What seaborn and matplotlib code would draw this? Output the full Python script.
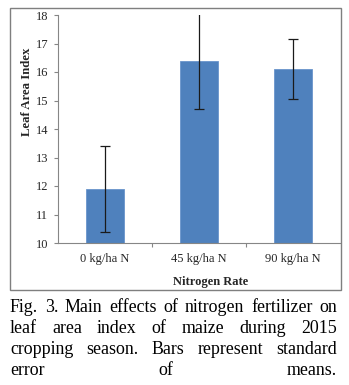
import matplotlib
matplotlib.use("Agg")
import matplotlib.pyplot as plt
import seaborn as sns
import pandas as pd
from matplotlib.patches import Rectangle

categories = ["0 kg/ha N", "45 kg/ha N", "90 kg/ha N"]
lai_means = [11.9, 16.4, 16.1]
lai_se = [1.52, 1.69, 1.05]
y_ticks = [10, 11, 12, 13, 14, 15, 16, 17, 18]
caption_lines = [
    "Fig. 3. Main effects of nitrogen fertilizer on",
    "leaf area index of maize during 2015",
    "cropping season. Bars represent standard",
    "error of means.",
]

sns.set_theme(style="white")
plt.rcParams['font.family'] = ['Liberation Serif', 'DejaVu Serif']

W, H = 349, 385
fig = plt.figure(figsize=(W / 100, H / 100), dpi=100)
ax = fig.add_axes([58 / W, (H - 243) / H, (340 - 58) / W, (243 - 15) / H])

df = pd.DataFrame({"cat": categories, "lai": lai_means})
sns.barplot(data=df, x="cat", y="lai", ax=ax, color="#4F81BD", width=0.4,
            edgecolor="#6A95CC", linewidth=0.6, errorbar=None, saturation=1)
ax.errorbar(range(len(categories)), lai_means, yerr=lai_se, fmt="none",
            ecolor="#1a1a1a", elinewidth=0.9, capsize=3.5, capthick=0.9)

tfs = 9
ax.set_ylim(10, 18)
ax.set_xlim(-0.5, 2.5)
ax.set_yticks(y_ticks)
ax.set_yticklabels([str(t) for t in y_ticks], fontsize=tfs)
ax.set_xticks(range(len(categories)))
ax.set_xticklabels(categories, fontsize=tfs)
ax.set_xticks([0.5, 1.5], minor=True)
ax.tick_params(axis="x", which="major", length=0, pad=7.5)
ax.tick_params(axis="x", which="minor", length=3, color="#868686", width=0.8, direction="out", bottom=True)
ax.tick_params(axis="y", length=3, color="#868686", width=0.8, direction="out", left=True, pad=4)
for s in ["top", "right"]:
    ax.spines[s].set_visible(False)
for s in ["left", "bottom"]:
    ax.spines[s].set_color("#868686")
    ax.spines[s].set_linewidth(0.8)

ax.set_xlabel("Nitrogen Rate", fontsize=9, fontweight="bold")
ax.set_ylabel("Leaf Area Index", fontsize=9.2, fontweight="bold")
ax.xaxis.set_label_coords((211 - 58) / (340 - 58), -(276 - 243) / (243 - 15))
ax.yaxis.set_label_coords(-(58 - 33) / (340 - 58), (243 - 92) / (243 - 15))

# outer box
fig.patches.append(Rectangle((10 / W, (H - 290) / H), (341 - 10) / W, (290 - 8) / H,
                             transform=fig.transFigure, fill=False,
                             edgecolor="#7f7f7f", linewidth=1.0))

# justified caption
renderer = fig.canvas.get_renderer()
x0, x1 = 10, 337
fs = 12.9
line_y = [312, 333, 354, 375]
for line, yy in zip(caption_lines, line_y):
    words = line.split()
    texts = []
    widths = []
    for w in words:
        t = fig.text(0, 0, w, fontsize=fs, va="baseline", ha="left", color="black")
        bb = t.get_window_extent(renderer=renderer)
        texts.append(t)
        widths.append(bb.width)
    gap = (x1 - x0 - sum(widths)) / (len(words) - 1)
    x = x0
    for t, wd in zip(texts, widths):
        t.set_position((x / W, (H - yy) / H))
        x += wd + gap

fig.savefig("out.png", dpi=100)
